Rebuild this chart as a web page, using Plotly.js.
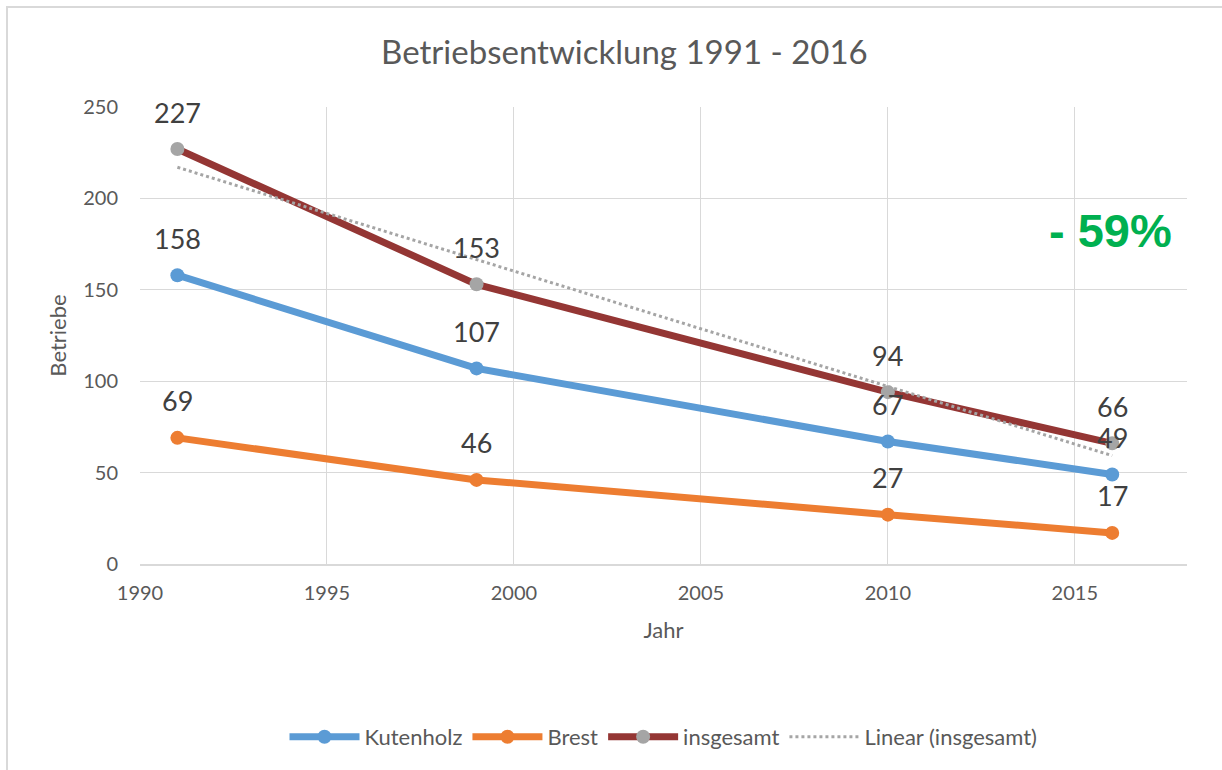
<!DOCTYPE html>
<html>
<head>
<meta charset="utf-8">
<script src="https://cdn.plot.ly/plotly-3.0.1.min.js"></script>
<style>
  html, body { margin: 0; padding: 0; background: #fff; }
  #frame { position: absolute; left: 6px; top: 6px; width: 1230px; height: 780px;
           border-left: 2px solid #d9d9d9; border-top: 2px solid #d9d9d9; pointer-events: none; }
  #chart { width: 1222px; height: 770px; }
</style>
</head>
<body>
<div id="chart"></div>
<div id="frame"></div>
<script>
const years = [1991, 1999, 2010, 2016];
const kutenholz = [158, 107, 67, 49];
const brest = [69, 46, 27, 17];
const insgesamt = [227, 153, 94, 66];
const seriesNames = ['Kutenholz', 'Brest', 'insgesamt', 'Linear (insgesamt)'];
const changeLabel = '- 59%';

// linear trend of "insgesamt" (least squares)
const n = years.length;
const mx = years.reduce((a, b) => a + b, 0) / n;
const my = insgesamt.reduce((a, b) => a + b, 0) / n;
let sxy = 0, sxx = 0;
for (let i = 0; i < n; i++) { sxy += (years[i] - mx) * (insgesamt[i] - my); sxx += (years[i] - mx) ** 2; }
const slope = sxy / sxx;
const trendX = [years[0], years[n - 1]];
const trendY = trendX.map(x => my + slope * (x - mx));

const font = 'Lato, "Open Sans", sans-serif';

const traces = [
  { x: years, y: kutenholz, name: seriesNames[0], mode: 'lines+markers',
    line: { color: '#5B9BD5', width: 7 }, marker: { color: '#5B9BD5', size: 14 } },
  { x: years, y: brest, name: seriesNames[1], mode: 'lines+markers',
    line: { color: '#ED7D31', width: 7 }, marker: { color: '#ED7D31', size: 14 } },
  { x: years, y: insgesamt, name: seriesNames[2], mode: 'lines+markers',
    line: { color: '#943634', width: 7 }, marker: { color: '#A5A5A5', size: 14 } },
  { x: trendX, y: trendY, name: seriesNames[3], mode: 'lines',
    line: { color: '#A5A5A5', width: 3, dash: 'dot' } }
];

const annotations = [];
[kutenholz, brest, insgesamt].forEach(arr => {
  arr.forEach((v, i) => {
    annotations.push({ x: years[i], y: v, text: String(v), showarrow: false,
      xanchor: 'center', yanchor: 'middle',
      yshift: 37, font: { family: font, size: 27, color: '#404040' } });
  });
});
annotations.push({ xref: 'paper', yref: 'paper', x: (1110 - 140) / 1047, y: (564 - 230) / 457,
  xanchor: 'center', yanchor: 'middle',
  text: '<b>' + changeLabel + '</b>', showarrow: false,
  font: { family: '"Liberation Sans", Arial, sans-serif', size: 47, color: '#00B050' } });

const layout = {
  width: 1222, height: 770,
  margin: { l: 140, r: 35, t: 107, b: 206 },
  paper_bgcolor: '#fff', plot_bgcolor: '#fff',
  title: { text: 'Betriebsentwicklung 1991 - 2016', x: 0.511, xanchor: 'center', y: 1 - 52 / 770, yanchor: 'middle',
    font: { family: font, size: 33, color: '#595959' } },
  xaxis: {
    range: [1990, 2018], dtick: 5, tick0: 1990, showgrid: true, gridcolor: '#d9d9d9', gridwidth: 1,
    zeroline: false, showline: true, linecolor: '#d9d9d9', linewidth: 1.5, ticks: '',
    ticklabelstandoff: 10,
    tickfont: { family: font, size: 20, color: '#595959' },
    title: { text: 'Jahr', standoff: 20, font: { family: font, size: 22, color: '#595959' } }
  },
  yaxis: {
    range: [0, 250], dtick: 50, showgrid: true, gridcolor: '#d9d9d9', gridwidth: 1,
    zeroline: false, showline: false, ticks: '', ticklabelstandoff: 21,
    tickfont: { family: font, size: 20, color: '#595959' },
    title: { text: 'Betriebe', standoff: 10, font: { family: font, size: 22, color: '#595959' } }
  },
  legend: { orientation: 'h', x: 0.5, xanchor: 'center', y: (564 - 737) / 457, yanchor: 'middle',
    font: { family: font, size: 22, color: '#595959' }, itemwidth: 70, tracegroupgap: 0 },
  annotations: annotations,
  showlegend: true
};

Plotly.newPlot('chart', traces, layout, { displayModeBar: false, staticPlot: true });
</script>
</body>
</html>
